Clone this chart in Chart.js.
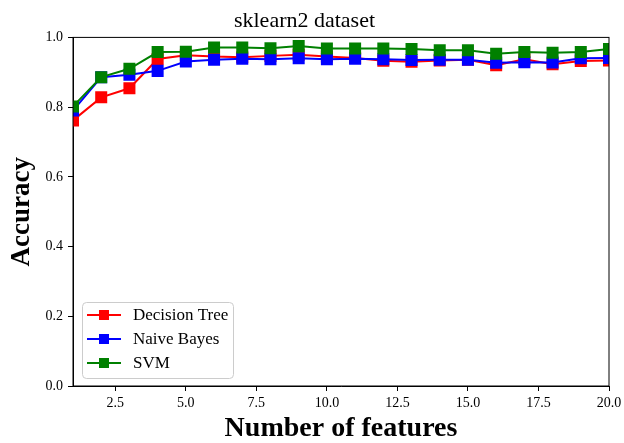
<!DOCTYPE html>
<html>
<head>
<meta charset="utf-8">
<script src="https://cdn.jsdelivr.net/npm/chart.js@4/dist/chart.umd.min.js"></script>
<style>
    body { margin: 0; background: #fff; }
</style>
</head>
<body>
<canvas id="accChart" width="624" height="443"></canvas>
<script>
// Data
const features = [1, 2, 3, 4, 5, 6, 7, 8, 9, 10, 11, 12, 13, 14, 15, 16, 17, 18, 19, 20];
const decisionTree = [0.762, 0.828, 0.854, 0.938, 0.949, 0.945, 0.943, 0.947, 0.950, 0.945, 0.941, 0.933, 0.930, 0.934, 0.936, 0.920, 0.937, 0.923, 0.932, 0.934];
const naiveBayes = [0.790, 0.886, 0.893, 0.904, 0.931, 0.936, 0.939, 0.937, 0.940, 0.937, 0.939, 0.937, 0.935, 0.936, 0.936, 0.927, 0.929, 0.928, 0.940, 0.941];
const svm = [0.802, 0.886, 0.910, 0.958, 0.959, 0.971, 0.971, 0.969, 0.975, 0.968, 0.968, 0.968, 0.967, 0.963, 0.963, 0.953, 0.958, 0.956, 0.958, 0.967];
const seriesNames = ['Decision Tree', 'Naive Bayes', 'SVM'];
const seriesColors = ['#ff0000', '#0000ff', '#008000'];
const xTicks = [2.5, 5, 7.5, 10, 12.5, 15, 17.5, 20];
const yTicks = [0, 0.2, 0.4, 0.6, 0.8, 1.0];

const serif = "'Liberation Serif', 'DejaVu Serif', serif";

function makeSet(name, values, color, order) {
    return {
        label: name,
        data: features.map((f, i) => ({ x: f, y: values[i] })),
        borderColor: color,
        backgroundColor: color,
        borderWidth: 2,
        pointStyle: 'rect',
        pointRadius: 8.5,
        pointHoverRadius: 8.5,
        pointBorderWidth: 0,
        tension: 0,
        order: order
    };
}

// black frame around the plot area
const framePlugin = {
    id: 'frame',
    afterDatasetsDraw(chart) {
        const { ctx, chartArea: a } = chart;
        ctx.save();
        ctx.strokeStyle = '#000';
        ctx.lineWidth = 1;
        ctx.strokeRect(a.left, a.top, a.right - a.left, a.bottom - a.top);
        ctx.restore();
    }
};

// matplotlib style legend in the lower left corner
const legendPlugin = {
    id: 'boxLegend',
    afterDraw(chart) {
        const { ctx, chartArea: a } = chart;
        const x0 = a.left + 9, y0 = a.bottom - 84, w = 151, h = 76;
        ctx.save();
        ctx.fillStyle = 'rgba(255,255,255,0.85)';
        ctx.strokeStyle = '#cccccc';
        ctx.lineWidth = 1;
        ctx.beginPath();
        ctx.roundRect(x0 + 0.5, y0 + 0.5, w, h, 4);
        ctx.fill();
        ctx.stroke();
        ctx.font = '17px ' + serif;
        ctx.textBaseline = 'middle';
        seriesNames.forEach((name, i) => {
            const y = y0 + 13 + i * 24;
            ctx.strokeStyle = seriesColors[i];
            ctx.lineWidth = 2;
            ctx.beginPath();
            ctx.moveTo(x0 + 5, y);
            ctx.lineTo(x0 + 39, y);
            ctx.stroke();
            ctx.fillStyle = seriesColors[i];
            ctx.fillRect(x0 + 17, y - 5, 10, 10);
            ctx.fillStyle = '#000';
            ctx.fillText(name, x0 + 51, y + 1);
        });
        ctx.restore();
    }
};

const ctx = document.getElementById('accChart').getContext('2d');
const accChart = new Chart(ctx, {
    type: 'line',
    data: {
        datasets: [
            makeSet(seriesNames[0], decisionTree, seriesColors[0], 3),
            makeSet(seriesNames[1], naiveBayes, seriesColors[1], 2),
            makeSet(seriesNames[2], svm, seriesColors[2], 1)
        ]
    },
    options: {
        responsive: false,
        animation: false,
        layout: {
            padding: { left: 0, right: 15, top: 0, bottom: 0 }
        },
        plugins: {
            legend: { display: false },
            tooltip: { enabled: false },
            title: {
                display: true,
                text: 'sklearn2 dataset',
                color: '#000',
                font: { family: serif, size: 22, weight: 'normal' },
                padding: { top: 8, bottom: 3 }
            }
        },
        scales: {
            x: {
                type: 'linear',
                min: 1,
                max: 20,
                afterBuildTicks: scale => { scale.ticks = xTicks.map(v => ({ value: v })); },
                afterFit: scale => {
                    scale.height = 57;
                    scale.paddingLeft = 0;
                    scale.paddingRight = 0;
                },
                ticks: {
                    color: '#000',
                    font: { family: serif, size: 14 },
                    padding: 4,
                    maxRotation: 0,
                    callback: v => v.toFixed(1)
                },
                grid: {
                    drawOnChartArea: false,
                    drawTicks: true,
                    tickLength: 5,
                    color: '#000'
                },
                border: { color: '#000' },
                title: {
                    display: true,
                    text: 'Number of features',
                    color: '#000',
                    font: { family: serif, size: 28, weight: 'bold', lineHeight: 1.0 },
                    padding: { top: 0, bottom: 0 }
                }
            },
            y: {
                min: 0,
                max: 1,
                afterBuildTicks: scale => { scale.ticks = yTicks.map(v => ({ value: v })); },
                afterFit: scale => { scale.width = 73; },
                ticks: {
                    color: '#000',
                    font: { family: serif, size: 14 },
                    padding: 5,
                    callback: v => v.toFixed(1)
                },
                grid: {
                    drawOnChartArea: false,
                    drawTicks: true,
                    tickLength: 5,
                    color: '#000'
                },
                border: { color: '#000' },
                title: {
                    display: true,
                    text: 'Accuracy',
                    color: '#000',
                    font: { family: serif, size: 27, weight: 'bold' },
                    padding: { top: 6, bottom: 0 }
                }
            }
        }
    },
    plugins: [framePlugin, legendPlugin]
});
</script>
</body>
</html>
